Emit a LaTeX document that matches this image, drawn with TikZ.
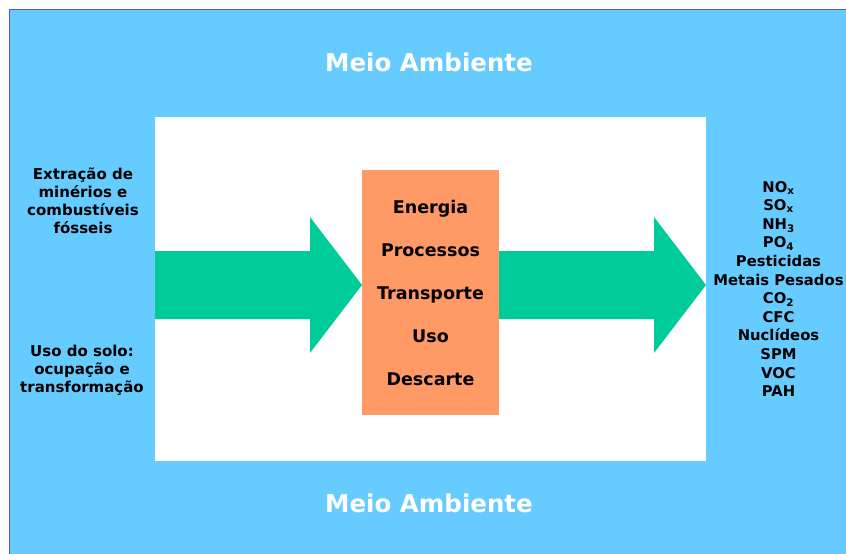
\documentclass[tikz,border=0pt]{standalone}
\usepackage{fontspec}
\setmainfont{DejaVu Sans}
\definecolor{bgblue}{HTML}{66CCFF}
\definecolor{edgeblue}{HTML}{5555CC}
\definecolor{boxorange}{HTML}{FF9966}
\definecolor{arrowgreen}{HTML}{00CC99}
\begin{document}
\begin{tikzpicture}[x=1pt,y=-1pt,
  title/.style={text=white,font={\fontsize{24.5}{28}\selectfont\bfseries}},
  sidetext/.style={align=center,font={\fontsize{15}{18}\selectfont\bfseries},inner sep=0pt},
  proctext/.style={align=center,font={\fontsize{17.5}{43}\selectfont\bfseries},inner sep=0pt},
  flowarrow/.style={fill=arrowgreen,draw=none}]
\useasboundingbox (0,0) rectangle (846,554);
\fill[white] (0,0) rectangle (846,554);
\fill[bgblue] (9.5,9.5) rectangle (846,554);
\draw[edgeblue,line width=1.5pt] (9.5,554) -- (9.5,9.5) -- (846,9.5);
\node[title] (top) at (429,62) {Meio Ambiente};
\node[title] (bottom) at (429,503) {Meio Ambiente};
\fill[white] (155,117) rectangle (706,461);
% arrows
\fill[flowarrow] (155,251) -- (310,251) -- (310,217) -- (362,285) -- (310,353) -- (310,319) -- (155,319) -- cycle;
\fill[flowarrow] (499,251) -- (654,251) -- (654,217) -- (706,285) -- (654,353) -- (654,319) -- (499,319) -- cycle;
\node[fill=boxorange,minimum width=137pt,minimum height=245pt,inner sep=0pt] (proc) at (430.5,292.5) {};
\node[proctext] (ptext) at (430.5,293) {Energia\\Processos\\Transporte\\Uso\\Descarte};
\node[sidetext] (inputs1) at (83,201) {Extração de\\minérios e\\combustíveis\\fósseis};
\node[sidetext] (inputs2) at (82,370) {Uso do solo:\\ocupação e\\transformação};
\node[sidetext,font={\fontsize{14.8}{18.6}\selectfont\bfseries}] (outputs) at (778.5,289) {NO\textsubscript{x}\\SO\textsubscript{x}\\NH\textsubscript{3}\\PO\textsubscript{4}\\Pesticidas\\Metais Pesados\\CO\textsubscript{2}\\CFC\\Nuclídeos\\SPM\\VOC\\PAH};
\end{tikzpicture}
\end{document}
